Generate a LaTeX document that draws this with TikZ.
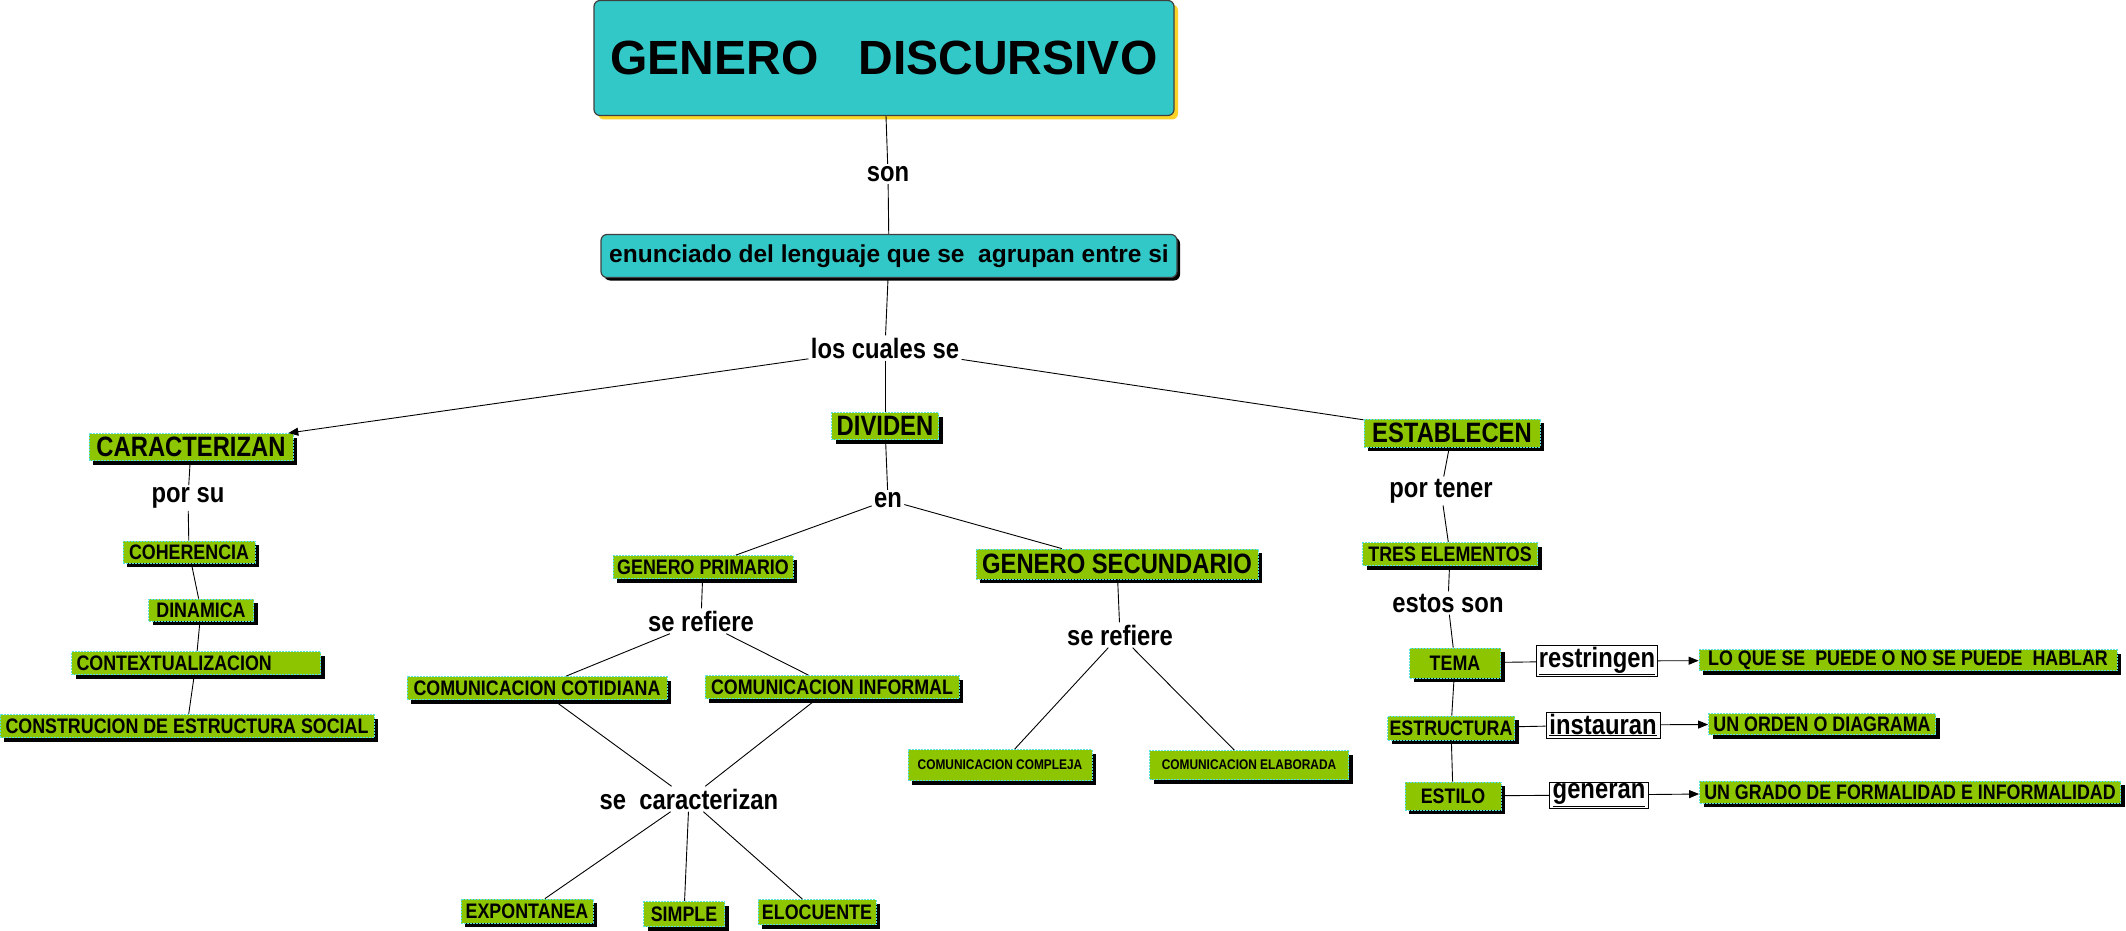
\documentclass[tikz,border=0pt]{standalone}
\usepackage{fontspec}
\setmainfont{Liberation Sans}
\newfontfamily\narrowfont[FakeStretch=0.85]{Liberation Sans}
\usetikzlibrary{shadows,arrows.meta}

\newcommand{\fsz}[1]{\fontsize{#1}{#1}\selectfont}
\definecolor{tealbox}{RGB}{51,200,200}
\definecolor{leafgreen}{RGB}{141,197,0}
\definecolor{cyanline}{RGB}{90,225,225}
\definecolor{shadowyellow}{RGB}{250,210,40}

\begin{document}
\begin{tikzpicture}[x=1pt, y=-1pt, line width=0.9pt, >={Triangle[length=10pt,width=8pt]},
    topbox/.style={draw=black!75, line width=1.2pt, fill=tealbox, rounded corners=6pt,
        drop shadow={fill=shadowyellow, opacity=1, shadow xshift=4pt, shadow yshift=-4pt}},
    midbox/.style={draw=black!75, line width=1.2pt, fill=tealbox, rounded corners=6pt,
        drop shadow={fill=black, opacity=1, shadow xshift=3pt, shadow yshift=-3pt}},
    concept/.style={draw=cyanline, dashed, dash pattern=on 2pt off 1pt, line width=0.8pt,
        fill=leafgreen, inner sep=1pt,
        drop shadow={fill=black, opacity=1, shadow xshift=4pt, shadow yshift=-4pt}},
    big/.style={font=\narrowfont\bfseries\fsz{28}},
    small/.style={font=\narrowfont\bfseries\fsz{21}},
    tiny/.style={font=\narrowfont\bfseries\fsz{14}},
    lbl/.style={font=\narrowfont\bfseries\fsz{28}, inner sep=2pt},
    linkbox/.style={draw=black, line width=1pt, fill=white, font=\narrowfont\bfseries\fsz{28},
        inner sep=1.5pt, minimum height=26}]

    \useasboundingbox (0,0) rectangle (2126,931);

    % cabecera
    \node[topbox, minimum width=580, minimum height=115, font=\bfseries\fsz{48}] (titulo) at (884,58) {GENERO\ \ \ DISCURSIVO};
    \node[lbl] (son) at (888,174) {son};
    \node[midbox, minimum width=576, minimum height=43, font=\bfseries\fsz{24.5}] (enunciado) at (889,256) {enunciado del lenguaje que se\ \ agrupan entre si};
    \node[lbl] (cuales) at (885,348) {los cuales se};

    % rama izquierda
    \node[concept, big, minimum width=204, minimum height=27] (caract) at (191,447) {CARACTERIZAN};
    \node[lbl] (porsu) at (188,498) {por su};
    \node[concept, small, minimum width=132, minimum height=22] (coher) at (189,552) {COHERENCIA};
    \node[concept, small, minimum width=105, minimum height=22] (dinam) at (201,610) {DINAMICA};
    \node[concept, small, minimum height=23, inner xsep=5pt, text width=239, align=left] (context) at (196,663) {CONTEXTUALIZACION};
    \node[concept, small, minimum width=374, minimum height=23] (constr) at (187,726) {CONSTRUCION DE ESTRUCTURA SOCIAL};

    % rama central
    \node[concept, big, minimum width=107, minimum height=27] (dividen) at (885,426) {DIVIDEN};
    \node[lbl] (en) at (888,500) {en};
    \node[concept, small, minimum width=180, minimum height=23] (primario) at (703,567) {GENERO PRIMARIO};
    \node[concept, big, minimum width=282, minimum height=30] (secund) at (1117,564) {GENERO SECUNDARIO};
    \node[lbl] (refizq) at (701,621) {se refiere};
    \node[lbl] (refder) at (1120,635) {se refiere};
    \node[concept, small, minimum width=260, minimum height=23] (cotid) at (537,688) {COMUNICACION COTIDIANA};
    \node[concept, small, minimum width=254, minimum height=23] (inform) at (832,687) {COMUNICACION INFORMAL};
    \node[lbl] (secarac) at (689,799) {se\ \ caracterizan};
    \node[concept, small, minimum width=132, minimum height=24] (expont) at (527,911) {EXPONTANEA};
    \node[concept, small, minimum width=81, minimum height=25] (simple) at (684,914) {SIMPLE};
    \node[concept, small, minimum width=118, minimum height=25] (elocu) at (817,912) {ELOCUENTE};
    \node[concept, tiny, minimum width=184, minimum height=31] (compleja) at (1000,765) {COMUNICACION COMPLEJA};
    \node[concept, tiny, minimum width=199, minimum height=29] (elabor) at (1249,765) {COMUNICACION ELABORADA};

    % rama derecha
    \node[concept, big, minimum width=176, minimum height=28] (establ) at (1452,433) {ESTABLECEN};
    \node[lbl] (portener) at (1441,491) {por tener};
    \node[concept, small, minimum width=175, minimum height=23] (tres) at (1450,554) {TRES ELEMENTOS};
    \node[lbl] (estos) at (1448,603) {estos son};
    \node[concept, small, minimum width=91, minimum height=30] (tema) at (1455,663) {TEMA};
    \node[concept, small, minimum width=127, minimum height=24] (estruct) at (1451,728) {ESTRUCTURA};
    \node[concept, small, minimum width=96, minimum height=28] (estilo) at (1453,796) {ESTILO};
    \node[linkbox, minimum width=121] (restr) at (1597,661) {\underline{restringen}};
    \node[linkbox, minimum width=114] (instaur) at (1603,725) {\underline{instauran}};
    \node[linkbox, minimum width=99] (generan) at (1599,795) {\underline{generan}};
    \node[concept, small, minimum width=418, minimum height=21] (loque) at (1908,660) {LO QUE SE\ \ PUEDE O NO SE PUEDE\ \ HABLAR};
    \node[concept, small, minimum width=227, minimum height=21] (orden) at (1822,724) {UN ORDEN O DIAGRAMA};
    \node[concept, small, minimum width=421, minimum height=22] (grado) at (1910,792) {UN GRADO DE FORMALIDAD E INFORMALIDAD};

    % conexiones
    \draw (titulo) -- (son);
    \draw (son) -- (enunciado);
    \draw (enunciado) -- (cuales);
    \draw[->] (cuales) -- (caract);
    \draw (cuales) -- (dividen);
    \draw (cuales) -- (establ);

    \draw (caract) -- (porsu);
    \draw (porsu) -- (coher);
    \draw (coher) -- (dinam);
    \draw (dinam) -- (context);
    \draw (context) -- (constr);

    \draw (dividen) -- (en);
    \draw (en) -- (primario);
    \draw (en) -- (secund);
    \draw (primario) -- (refizq);
    \draw (refizq) -- (cotid);
    \draw (refizq) -- (inform);
    \draw (cotid) -- (secarac);
    \draw (inform) -- (secarac);
    \draw (secarac) -- (expont);
    \draw (secarac) -- (simple);
    \draw (secarac) -- (elocu);
    \draw (secund) -- (refder);
    \draw (refder) -- (compleja);
    \draw (refder) -- (elabor);

    \draw (establ) -- (portener);
    \draw (portener) -- (tres);
    \draw (tres) -- (estos);
    \draw (estos) -- (tema);
    \draw (tema) -- (estruct);
    \draw (estruct) -- (estilo);
    \draw (tema) -- (restr);
    \draw[->] (restr) -- (loque);
    \draw (estruct) -- (instaur);
    \draw[->] (instaur) -- (orden);
    \draw (estilo) -- (generan);
    \draw[->] (generan) -- (grado);
\end{tikzpicture}
\end{document}
